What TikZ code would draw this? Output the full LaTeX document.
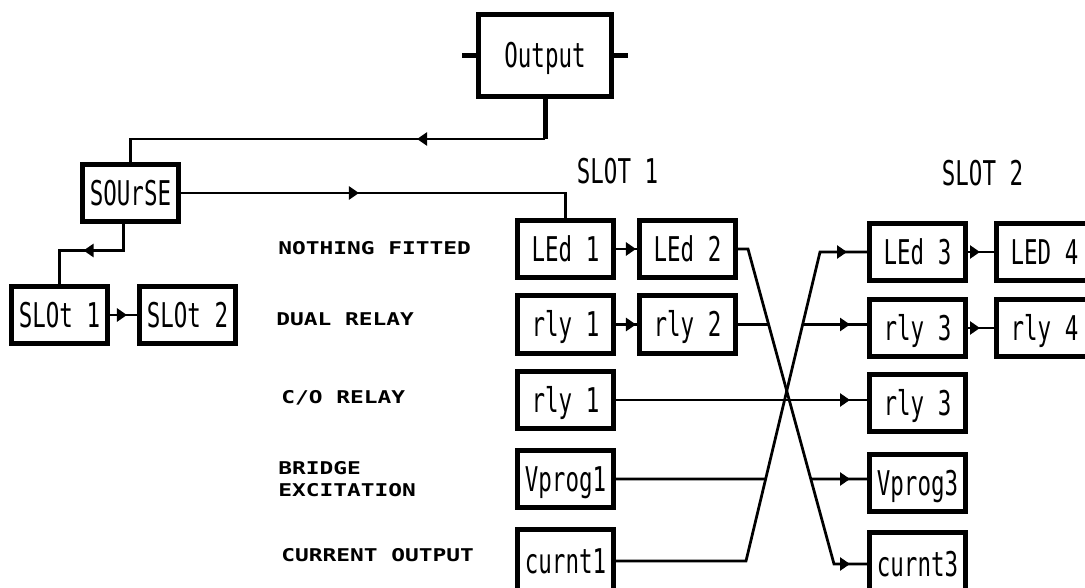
\documentclass[tikz,border=0pt]{standalone}
\usepackage{fontspec}
\usepackage{tikz}
\usetikzlibrary{positioning,arrows.meta,decorations.markings}
\newfontfamily\blkfont[FakeStretch=0.66]{DejaVu Sans Mono}
\newfontfamily\rowfont[FakeStretch=1.3]{DejaVu Sans Mono}
\tikzset{
  blk/.style={draw, line width=0.1cm, minimum width=1.92cm, minimum height=1.16cm, inner sep=0pt,
    text height=14.1pt, text depth=0pt, font=\blkfont\fontsize{19.4}{22}\selectfont},
  conn/.style={line width=0.055cm},
  tipat/.style={postaction={decorate}, decoration={markings, mark=at position #1 with {\arrow{Triangle[length=0.2cm,width=0.26cm]}}}},
  rowlab/.style={anchor=north west, inner sep=0pt, align=left, font=\rowfont\bfseries\fontsize{10}{12.5}\selectfont},
  slotlab/.style={inner sep=0pt, text height=14.1pt, text depth=0pt, font=\blkfont\fontsize{19.4}{22}\selectfont}
}
\begin{document}
\begin{tikzpicture}[x=0.02cm, y=-0.02cm]
  \useasboundingbox (0,0) rectangle (1085,588);
  \clip (0,0) rectangle (1085,588);
  % source selection
  \node[blk, minimum width=2.66cm, minimum height=1.64cm] (out) at (545,55.5) {Output};
  \node[blk] (src) at (130.5,193) {SOUrSE};
  \node[blk] (slt1) at (59.5,315) {SLOt 1};
  \node[blk, right=0.54cm of slt1] (slt2) {SLOt 2};
  % slot 1 options
  \node[slotlab] (lslot1) at (617.5,171) {SLOT 1};
  \node[blk] (ld1) at (565.5,249) {LEd 1};
  \node[blk, right=0.42cm of ld1] (ld2) {LEd 2};
  \node[blk] (ry1) at (565.5,324.5) {rly 1};
  \node[blk, right=0.42cm of ry1] (ry2) {rly 2};
  \node[blk] (co1) at (565.5,400) {rly 1};
  \node[blk] (vp1) at (565.5,479) {Vprog1};
  \node[blk, minimum height=1.26cm] (cu1) at (565.5,561) {curnt1};
  % slot 2 options
  \node[slotlab] (lslot2) at (982.5,173) {SLOT 2};
  \node[blk] (ld3) at (917.5,252) {LEd 3};
  \node[blk, right=0.52cm of ld3] (ld4) {LED 4};
  \node[blk] (ry3) at (917.5,328) {rly 3};
  \node[blk, right=0.52cm of ry3] (ry4) {rly 4};
  \node[blk] (co3) at (917.5,403) {rly 3};
  \node[blk] (vp3) at (917.5,483) {Vprog3};
  \node[blk, minimum height=1.26cm] (cu3) at (917.5,564) {curnt3};
  % row captions
  \node[rowlab] (lnone) at (278,241) {NOTHING FITTED};
  \node[rowlab] (ldual) at (276,312) {DUAL RELAY};
  \node[rowlab] (lco) at (281,390) {C/O RELAY};
  \node[rowlab] (lbrg) at (278,461) {BRIDGE\\EXCITATION};
  \node[rowlab] (lcur) at (281,548) {CURRENT OUTPUT};
  % tree from output
  \coordinate (oc) at (545,139);
  \draw[line width=0.1cm] (out.south) -- (oc);
  \draw[line width=0.1cm] (out.west) -- ++(-14,0);
  \draw[line width=0.1cm] (out.east) -- ++(14,0);
  \draw[conn, tipat=2.56cm] (oc) -| (src.north);
  \draw[conn, tipat=3.56cm] (src.east) -| (ld1.north);
  \draw[conn, tipat=1.32cm] ([xshift=-0.14cm]src.south) -- ++(0,26) -| (slt1.north);
  \draw[conn, tipat=-0.2cm] (slt1) -- (slt2);
  \draw[conn, tipat=-0.02cm] (ld1) -- (ld2);
  \draw[conn, tipat=-0.02cm] (ry1) -- (ry2);
  \draw[conn, tipat=-0.28cm] (ld3) -- (ld4);
  \draw[conn, tipat=-0.28cm] (ry3) -- (ry4);
  % crossed links between the slots
  \coordinate (dA) at (748,249);
  \coordinate (dB) at (834,564);
  \coordinate (uA) at (746,561);
  \coordinate (uB) at (820,252);
  \coordinate (r3in) at (ry2.east -| ry3.west);
  \coordinate (v3in) at (vp1.east -| vp3.west);
  \draw[conn, tipat=-0.34cm] (ld2.east) -- (dA) -- (dB) -- (cu3.west);
  \draw[conn, tipat=-0.4cm] (cu1.east) -- (uA) -- (uB) -- (ld3.west);
  \draw[conn] (ry2.east) -- (intersection of dA--dB and ry2.east--r3in);
  \draw[conn, tipat=-0.34cm] (intersection of uA--uB and ry2.east--r3in) -- (r3in);
  \draw[conn, tipat=-0.34cm] (co1.east) -- (co1.east -| co3.west);
  \draw[conn] (vp1.east) -- (intersection of uA--uB and vp1.east--v3in);
  \draw[conn, tipat=-0.34cm] (intersection of dA--dB and vp1.east--v3in) -- (v3in);
\end{tikzpicture}
\end{document}
